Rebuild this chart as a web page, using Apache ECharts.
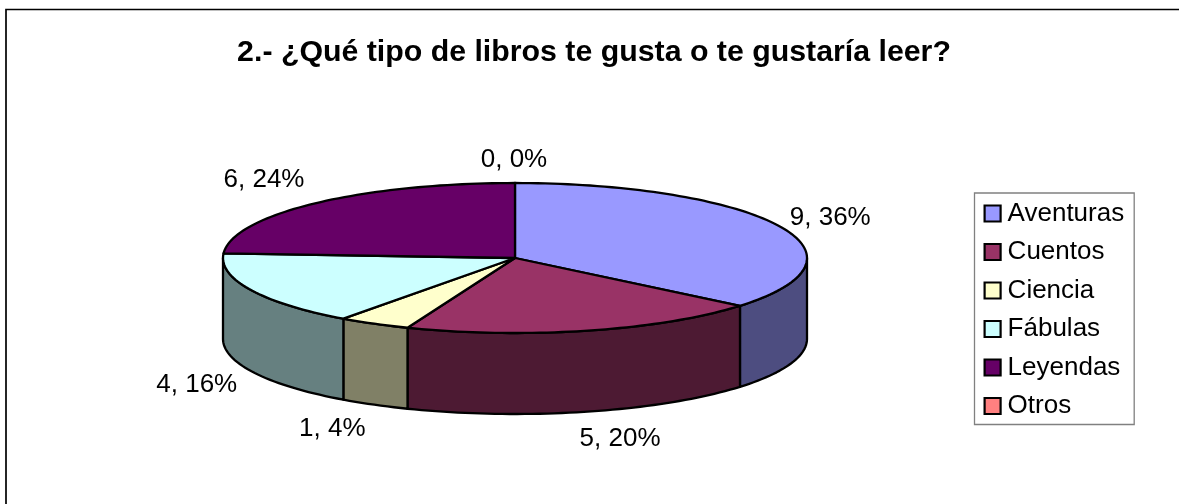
<!DOCTYPE html>
<html>
<head>
<meta charset="utf-8">
<style>html,body{margin:0;padding:0;background:#fff}#c{width:1179px;height:504px}</style>
<script src="https://cdn.jsdelivr.net/npm/echarts@6/dist/echarts.min.js"></script>
</head>
<body>
<div id="c"></div>
<script>
var titleText = '2.- ¿Qué tipo de libros te gusta o te gustaría leer?';
var categories = ['Aventuras', 'Cuentos', 'Ciencia', 'Fábulas', 'Leyendas', 'Otros'];
var counts = [9, 5, 1, 4, 6, 0];
var topColors = ['#9999FF', '#993366', '#FFFFCC', '#CCFFFF', '#660066', '#FF8080'];
var wallColors = ['#4D4D80', '#4D1A33', '#808066', '#668080', '#330033', '#804040'];

var FONT = '"Liberation Sans", Arial, sans-serif';
var CX = 515, CY = 258, RX = 292, RY = 75, DEPTH = 81;
var total = counts.reduce(function (a, b) { return a + b; }, 0);
var starts = [];
counts.reduce(function (acc, v, i) { starts[i] = acc; return acc + v; }, 0);

// label layout: small nudges from the radial rule
var labelNudge = [[4, 2], [19.5, 3], [-17, 2.5], [-7, 3], [-15.5, -5], [-1, 2]];

function pt(deg, dy) {
  var r = deg * Math.PI / 180;
  return [CX + RX * Math.sin(r), CY - RY * Math.cos(r) + (dy || 0)];
}
function arc(a, b, dy) {
  var out = [], n = Math.max(1, Math.ceil(Math.abs(b - a) / 1.5));
  for (var i = 0; i <= n; i++) out.push(pt(a + (b - a) * i / n, dy));
  return out;
}
function makeRender(i) {
  return function (params, api) {
    var v = api.value(0);
    var a0 = starts[i] / total * 360, a1 = (starts[i] + v) / total * 360;
    var children = [];
    var style = { stroke: '#000', lineWidth: 2.3, lineJoin: 'round' };
    if (v > 0) {
      var w0 = Math.max(a0, 90), w1 = Math.min(a1, 270);
      if (w1 > w0) {
        var wall = arc(w0, w1, 0).concat(arc(w1, w0, DEPTH));
        children.push({ type: 'polygon', z2: 1, shape: { points: wall },
          style: Object.assign({ fill: wallColors[i] }, style) });
      }
      var top = [[CX, CY]].concat(arc(a0, a1, 0));
      children.push({ type: 'polygon', z2: 5, shape: { points: top },
        style: Object.assign({ fill: topColors[i] }, style) });
    }
    var mid = (a0 + a1) / 2, r = mid * Math.PI / 180;
    var rim = pt(mid, Math.cos(r) < 0 ? DEPTH : 0);
    children.push({ type: 'text', z2: 10,
      x: rim[0] + 52 * Math.sin(r) + labelNudge[i][0],
      y: rim[1] - 25 * Math.cos(r) + labelNudge[i][1],
      style: { text: v + ', ' + Math.round(v / total * 100) + '%',
        fill: '#000', font: '26px ' + FONT, align: 'center', verticalAlign: 'middle' } });
    return { type: 'group', children: children };
  };
}

var chart = echarts.init(document.getElementById('c'), null, { renderer: 'canvas' });
chart.setOption({
  animation: false,
  backgroundColor: '#fff',
  title: { text: titleText, left: 589, top: 33, textAlign: 'center',
    textStyle: { fontFamily: FONT, fontWeight: 'bold', fontSize: 30.3, color: '#000' } },
  legend: {
    orient: 'vertical', left: 974.5, top: 193,
    data: categories, icon: 'rect', itemWidth: 16, itemHeight: 16, itemGap: 12.5,
    padding: [7.5, 10, 5.5, 9], borderColor: '#808080', borderWidth: 1.3,
    selectedMode: false,
    inactiveColor: '#000',
    itemStyle: { borderColor: '#000', borderWidth: 2.2 },
    textStyle: { fontFamily: FONT, fontSize: 26, color: '#000', padding: [0, 0, 0, 2], lineHeight: 26 }
  },
  graphic: [{ type: 'rect', silent: true, shape: { x: 6, y: 9.5, width: 1400, height: 700 },
    style: { fill: 'none', stroke: '#000', lineWidth: 1.7 }, z: -1 }],
  series: categories.map(function (name, i) {
    return { type: 'custom', name: name, coordinateSystem: 'none', silent: true,
      itemStyle: { color: topColors[i] }, data: [[counts[i]]], renderItem: makeRender(i) };
  })
});
</script>
</body>
</html>
